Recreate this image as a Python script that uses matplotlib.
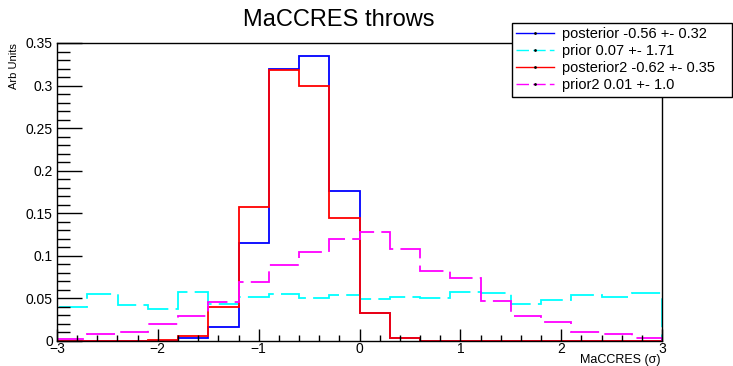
import numpy as np
import matplotlib.pyplot as plt
from matplotlib.lines import Line2D
from matplotlib.ticker import MultipleLocator

plt.rcParams['font.family'] = ['Liberation Sans', 'DejaVu Sans']

# 20 bins of width 0.3 between -3 and 3
edges = np.linspace(-3, 3, 21)

posterior = [0, 0, 0, 0, 0.003, 0.017, 0.115, 0.319, 0.335, 0.176,
             0.033, 0.004, 0, 0, 0, 0, 0, 0, 0, 0]
prior = [0.040, 0.055, 0.042, 0.037, 0.058, 0.044, 0.052, 0.055, 0.050, 0.054,
         0.049, 0.052, 0.051, 0.057, 0.056, 0.043, 0.048, 0.054, 0.052, 0.056]
posterior2 = [0, 0, 0, 0.001, 0.006, 0.040, 0.157, 0.318, 0.300, 0.144,
              0.033, 0.003, 0, 0, 0, 0, 0, 0, 0, 0]
prior2 = [0.002, 0.008, 0.011, 0.020, 0.029, 0.046, 0.069, 0.089, 0.105, 0.120,
          0.128, 0.108, 0.082, 0.074, 0.047, 0.029, 0.022, 0.011, 0.008, 0.003]

labels = ['posterior -0.56 +- 0.32', 'prior 0.07 +- 1.71',
          'posterior2 -0.62 +- 0.35', 'prior2 0.01 +- 1.0']
colors = ['#0000ff', '#00ffff', '#ff0000', '#ff00ff']
dashed = [False, True, False, True]
xticks = [-3, -2, -1, 0, 1, 2, 3]
yticks = [0, 0.05, 0.1, 0.15, 0.2, 0.25, 0.3, 0.35]
ytick_labels = ['0', '0.05', '0.1', '0.15', '0.2', '0.25', '0.3', '0.35']

W, H = 733, 366
fig = plt.figure(figsize=(W / 100, H / 100), dpi=100)
ax = fig.add_axes([57 / W, 1 - 341 / H, (662 - 57) / W, (341 - 43) / H])

handles = []
for vals, col, dsh, lab in zip([posterior, prior, posterior2, prior2], colors, dashed, labels):
    ls = (0, (16, 4)) if dsh else '-'
    ax.stairs(vals, edges, baseline=0, color=col, lw=1.3, linestyle=ls)
    handles.append(Line2D([0], [0], color=col, lw=1.0, linestyle=(0, (9, 3)) if dsh else '-',
                          marker='.', markersize=2, markerfacecolor='k', markeredgecolor='k'))

ax.set_xlim(-3, 3)
ax.set_ylim(0, 0.35)
ax.set_xticks(xticks)
ax.xaxis.set_minor_locator(MultipleLocator(0.2))
ax.set_yticks(yticks)
ax.set_yticklabels(ytick_labels)
ax.yaxis.set_minor_locator(MultipleLocator(0.01))
ax.tick_params(axis='x', which='major', direction='in', length=9, width=1, labelsize=10, pad=1)
ax.tick_params(axis='x', which='minor', direction='in', length=4.5, width=1)
ax.tick_params(axis='y', which='major', direction='in', length=18, width=1, labelsize=10, pad=3)
ax.tick_params(axis='y', which='minor', direction='in', length=9, width=1)
for s in ax.spines.values():
    s.set_linewidth(1.0)

fig.text(661 / W, 1 - 360 / H, 'MaCCRES (\u03c3)', ha='right', va='center', fontsize=9)
fig.text(14 / W, 1 - 43 / H, 'Arb Units', ha='center', va='top', rotation=90, fontsize=8)
fig.text(339 / W, 1 - 20 / H, 'MaCCRES throws', ha='center', va='center', fontsize=17)

leg = ax.legend(handles, labels, loc='upper left',
                bbox_to_anchor=(512 / W, 1 - 100 / H, 220 / W, 77 / H),
                bbox_transform=fig.transFigure, mode='expand', fontsize=10.5, frameon=True,
                fancybox=False, borderaxespad=0, handlelength=2.6, handletextpad=0.55,
                labelspacing=0.2, borderpad=0.3)
leg.get_frame().set_edgecolor('black')
leg.get_frame().set_linewidth(1.0)
leg.get_frame().set_alpha(1)

fig.savefig('out.png', dpi=100)
